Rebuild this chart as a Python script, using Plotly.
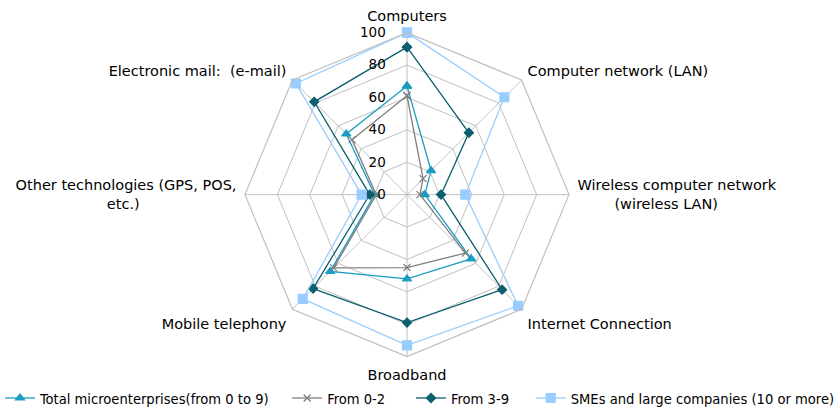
import plotly.graph_objects as go

# ICT adoption by company size (%)
categories = [
    "Computers",
    "Computer network (LAN)",
    "Wireless computer network<br>\u00a0\u00a0\u00a0\u00a0\u00a0\u00a0\u00a0\u00a0(wireless LAN)",
    "Internet Connection",
    "Broadband",
    "Mobile telephony",
    "Other technologies (GPS, POS,<br>etc.)" + "\u00a0" * 21,
    "Electronic mail:\u00a0\u00a0(e-mail)",
]
radial_ticks = [0, 20, 40, 60, 80, 100]

total_micro = [67, 21, 11, 56, 52, 67, 20, 53]
from_0_2 = [61, 14, 8, 51, 45, 64, 19, 48]
from_3_9 = [91, 54, 21, 83, 79, 82, 23, 81]
smes_large = [100, 85, 36, 97, 93, 91, 28, 97]

# name, values, colour, marker symbol, marker size, legend spacing after the entry
series = [
    ("Total microenterprises(from 0 to 9)", total_micro, "#1A9BC2", "triangle-up", 8, 3),
    ("From 0-2", from_0_2, "#7F7F7F", "x-thin-open", 7, 5),
    ("From 3-9", from_3_9, "#0B5F6F", "diamond", 7, 4),
    ("SMEs and large companies (10 or more)", smes_large, "#99CCFF", "square", 9, 0),
]

fig = go.Figure()
for name, vals, color, symbol, size, gap in series:
    fig.add_trace(go.Scatterpolar(
        r=vals + vals[:1],
        theta=categories + categories[:1],
        name=name + "\u00a0" * gap,
        mode="lines+markers",
        line=dict(color=color, width=1.3),
        marker=dict(symbol=symbol, size=size, color=color,
                    line=dict(color=color, width=1.2)),
    ))

W, H = 837, 414
cx, cy, rad = 407, 197, 164

fig.update_layout(
    width=W, height=H,
    margin=dict(l=0, r=0, t=0, b=0),
    paper_bgcolor="white",
    plot_bgcolor="white",
    font=dict(family="DejaVu Sans", size=14.5, color="#000000"),
    polar=dict(
        domain=dict(x=[(cx - rad) / W, (cx + rad) / W],
                    y=[1 - (cy + rad) / H, 1 - (cy - rad) / H]),
        gridshape="linear",
        bgcolor="white",
        radialaxis=dict(
            range=[0, 100], tickvals=radial_ticks,
            angle=90, tickangle=90, side="counterclockwise",
            showline=False, ticks="outside", ticklen=16,
            tickcolor="rgba(0,0,0,0)",
            gridcolor="#C0C0C0", gridwidth=1.2,
            tickfont=dict(size=13.5, color="#000000"),
        ),
        angularaxis=dict(
            direction="clockwise", rotation=90,
            gridcolor="#C0C0C0", gridwidth=1.2, linecolor="#C0C0C0", linewidth=1.2,
            ticks="outside", ticklen=5, tickcolor="rgba(0,0,0,0)",
            tickfont=dict(size=14.5, color="#000000"),
        ),
    ),
    legend=dict(
        orientation="h", x=0.004, y=1 - 403 / H, xanchor="left", yanchor="middle",
        font=dict(family="DejaVu Sans Condensed", size=14.6, color="#000000"),
        bgcolor="rgba(0,0,0,0)",
    ),
)

fig.write_html("out.html")
